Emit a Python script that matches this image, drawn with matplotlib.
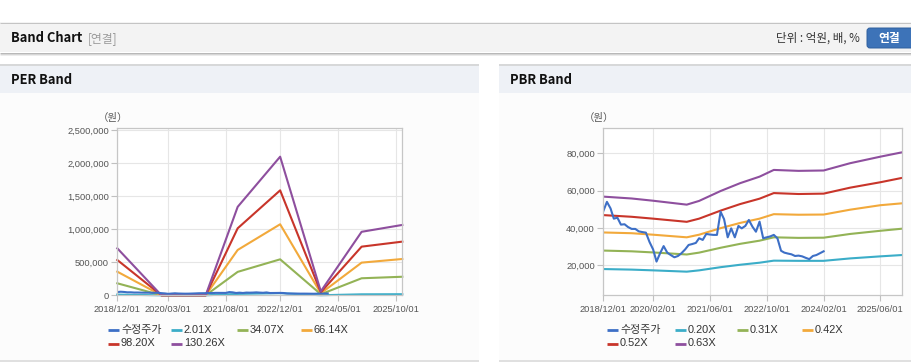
import matplotlib
matplotlib.use("Agg")
import matplotlib.pyplot as plt
from matplotlib.patches import Rectangle, FancyBboxPatch
from matplotlib.lines import Line2D
from matplotlib.transforms import IdentityTransform
from matplotlib.ticker import FuncFormatter
import pandas as pd

plt.rcParams['font.family'] = ['Liberation Sans', 'Noto Sans CJK KR', 'DejaVu Sans']

# ---------------- data ----------------
price_start = "2018-12-01"
price = [49.0, 54.0, 50.5, 45.0, 45.5, 41.8, 42.0, 40.5, 39.5, 39.5,
         38.2, 37.8, 37.5, 32.5, 28.5, 22.0, 26.5, 30.3, 26.8, 25.5,
         24.3, 25.0, 26.5, 28.5, 30.9, 31.4, 32.0, 34.5, 33.6, 36.8,
         36.5, 36.3, 36.3, 48.7, 44.7, 35.0, 39.8, 35.0, 41.1, 39.8,
         41.1, 44.3, 40.7, 38.0, 43.4, 34.5, 35.0, 35.5, 36.3, 34.5,
         27.8, 26.8, 26.3, 25.9, 25.0, 25.2, 24.8, 24.0, 23.3, 25.0,
         25.5, 26.5, 27.5]  # thousand won

per_dates = ['2018-12-01', '2020-01-01', '2021-02-01', '2021-11-15',
             '2022-12-01', '2023-12-01', '2024-12-01', '2025-12-01']
per_201 = [11000, 0, 0, 20700, 32400, 1000, 14800, 16400]
per_3407 = [182000, 0, 0, 355000, 545000, 16000, 258000, 281000]
per_6614 = [358000, 0, 0, 687000, 1076000, 30000, 495000, 550000]
per_9820 = [535000, 0, 0, 1015000, 1590000, 45000, 737000, 813000]
per_13026 = [712000, 0, 0, 1340000, 2100000, 60000, 962000, 1066000]
per_labels = ['2.01X', '34.07X', '66.14X', '98.20X', '130.26X']
per_ticks = ['2018/12/01', '2020/03/01', '2021/08/01', '2022/12/01', '2024/05/01', '2025/10/01']
per_yticks = [0, 500000, 1000000, 1500000, 2000000, 2500000]

pbr_dates = ['2018-12-01', '2019-08-01', '2020-02-01', '2020-11-15', '2021-03-01',
             '2021-09-01', '2022-02-15', '2022-08-01', '2022-12-01', '2023-07-01',
             '2024-02-01', '2024-09-15', '2025-06-01', '2025-12-01']
pbr_020 = [18.0, 17.7, 17.3, 16.6, 17.3, 19.0, 20.3, 21.4, 22.5, 22.4, 22.4, 23.7, 24.8, 25.5]
pbr_031 = [27.9, 27.5, 26.9, 25.8, 26.8, 29.4, 31.5, 33.2, 35.0, 34.7, 34.8, 36.8, 38.5, 39.6]
pbr_042 = [37.6, 37.2, 36.4, 35.0, 36.4, 39.9, 42.7, 45.0, 47.4, 47.1, 47.2, 49.8, 52.2, 53.2]
pbr_052 = [46.9, 46.0, 45.0, 43.3, 45.0, 49.3, 52.8, 55.7, 58.7, 58.2, 58.4, 61.6, 64.5, 66.8]
pbr_063 = [56.8, 55.8, 54.6, 52.5, 54.5, 59.8, 64.0, 67.5, 71.1, 70.6, 70.8, 74.7, 78.2, 80.5]
pbr_labels = ['0.20X', '0.31X', '0.42X', '0.52X', '0.63X']
pbr_ticks = ['2018/12/01', '2020/02/01', '2021/06/01', '2022/10/01', '2024/02/01', '2025/06/01']
pbr_yticks = [20000, 40000, 60000, 80000]

price_label = '수정주가'
unit_label = '（원）'
colors = ['#3d6fc6', '#3badc8', '#93b356', '#f2a93b', '#c8352a', '#8e4f9e']

# ---------------- figure ----------------
W, H = 912, 364
fig = plt.figure(figsize=(W / 100, H / 100), dpi=100)
fig.patch.set_facecolor('white')


def fx(x):
    return x / W


def fy(y):
    return 1 - y / H


def rect(x0, y0, x1, y1, color, z=-10):
    fig.patches.append(Rectangle((fx(x0), fy(y1)), fx(x1) - fx(x0), fy(y0) - fy(y1),
                                 transform=fig.transFigure, facecolor=color,
                                 edgecolor='none', zorder=z))


def hline(x0, x1, y, color, lw=1.0):
    fig.add_artist(Line2D([fx(x0), fx(x1)], [fy(y), fy(y)], transform=fig.transFigure,
                          color=color, linewidth=lw * 0.72, solid_capstyle='butt', zorder=-5))


# header bar
rect(0, 22, W, 52, '#f3f3f3')
hline(0, W, 22.5, '#c4c4c4')
hline(0, W, 52.5, '#b8b8b8')
hline(0, W, 53.5, '#d6d6d6')
hline(0, W, 54.5, '#ececec')
fig.text(fx(11), fy(38.5), 'Band Chart', family=['Noto Sans CJK KR'], weight='bold',
         fontsize=9.3, color='#111111', va='center', ha='left')
fig.text(fx(88), fy(38.5), '[연결]', family=['Noto Sans CJK KR'], fontsize=8.5,
         color='#9a9a9a', va='center', ha='left')
fig.text(fx(860), fy(38.5), '단위 : 억원, 배, %', family=['Noto Sans CJK KR'], fontsize=8.3,
         color='#333333', va='center', ha='right')
btn = FancyBboxPatch((867, H - 48), 47, 20, boxstyle='round,pad=0,rounding_size=3',
                     transform=IdentityTransform(), facecolor='#3d73b8', edgecolor='#2f5f9e',
                     linewidth=0.7, zorder=-4)
fig.patches.append(btn)
fig.text(fx(889), fy(38.5), '연결', family=['Noto Sans CJK KR'], weight='bold',
         fontsize=8.5, color='white', va='center', ha='center')

# panels
for (x0, x1, title) in [(0, 479, 'PER Band'), (499, W, 'PBR Band')]:
    rect(x0, 64, x1, 93, '#eef1f6')
    rect(x0, 93, x1, 360, '#fcfcfc')
    hline(x0, x1, 64.5, '#d0d0d0', 1.5)
    hline(x0, x1, 361, '#d6d6d6', 1.5)
    fig.text(fx(x0 + 11), fy(80), title, family=['Noto Sans CJK KR'], weight='bold',
             fontsize=9.3, color='#111111', va='center', ha='left')


def style_axes(ax, ticks, yticks, ylim, fmt):
    ax.set_facecolor('white')
    ax.set_xlim(pd.Timestamp('2018-12-01'), pd.Timestamp('2025-12-01'))
    ax.set_ylim(*ylim)
    tick_dates = [pd.Timestamp(t.replace('/', '-')) for t in ticks]
    ax.set_xticks(tick_dates)
    ax.set_xticklabels(ticks)
    ax.set_yticks(yticks)
    ax.yaxis.set_major_formatter(FuncFormatter(fmt))
    ax.grid(True, color='#e6e6e6', linewidth=0.8)
    ax.set_axisbelow(True)
    for s in ax.spines.values():
        s.set_color('#c6c6c6')
        s.set_linewidth(0.9)
    ax.tick_params(axis='both', colors='#c0c0c0', length=4, width=0.8,
                   labelcolor='#555555', labelsize=6.7)
    ax.tick_params(axis='x', pad=3)
    ax.tick_params(axis='y', pad=2)


price_dates = pd.date_range(price_start, periods=len(price), freq='MS')

# PER axes
ax1 = fig.add_axes([fx(117.3), fy(295.3), fx(402.3) - fx(117.3), fy(128.3) - fy(295.3)])
ax1.set_zorder(1)
style_axes(ax1, per_ticks, per_yticks, (0, 2530000), lambda v, p: f'{int(v):,}')
pd_per = pd.to_datetime(per_dates)
for vals, c in zip([per_201, per_3407, per_6614, per_9820, per_13026], colors[1:]):
    ax1.plot(pd_per, vals, color=c, linewidth=1.5, solid_joinstyle='round', clip_on=False)
ax1.plot(price_dates, [p * 1000 for p in price], color=colors[0], linewidth=1.5)
fig.text(fx(113), fy(118), unit_label, family=['Noto Sans CJK KR'], fontsize=7.5,
         color='#555555', ha='center', va='center')

# PBR axes
ax2 = fig.add_axes([fx(603.3), fy(295), fx(901.7) - fx(603.3), fy(128.3) - fy(295)])
ax2.set_zorder(1)
style_axes(ax2, pbr_ticks, pbr_yticks, (4100, 93400), lambda v, p: f'{int(v):,}')
pd_pbr = pd.to_datetime(pbr_dates)
for vals, c in zip([pbr_020, pbr_031, pbr_042, pbr_052, pbr_063], colors[1:]):
    ax2.plot(pd_pbr, [v * 1000 for v in vals], color=c, linewidth=1.5, solid_joinstyle='round')
ax2.plot(price_dates, [p * 1000 for p in price], color=colors[0], linewidth=1.5)
fig.text(fx(599), fy(118), unit_label, family=['Noto Sans CJK KR'], fontsize=7.5,
         color='#555555', ha='center', va='center')


# legends
def legend(cols, labels):
    rows = [330, 343.5]
    positions = [(cols[0], rows[0]), (cols[1], rows[0]), (cols[2], rows[0]), (cols[3], rows[0]),
                 (cols[0], rows[1]), (cols[1], rows[1])]
    for (x, y), lab, c in zip(positions, labels, colors):
        fig.add_artist(Line2D([fx(x), fx(x + 11)], [fy(y), fy(y)], transform=fig.transFigure,
                              color=c, linewidth=2.0, solid_capstyle='butt'))
        fig.text(fx(x + 13), fy(y), lab, fontsize=7.9, color='#333333', ha='left', va='center')


legend([108, 171, 237, 301], [price_label] + per_labels)
legend([607, 675, 737, 802], [price_label] + pbr_labels)

fig.savefig('out.png', dpi=100)
